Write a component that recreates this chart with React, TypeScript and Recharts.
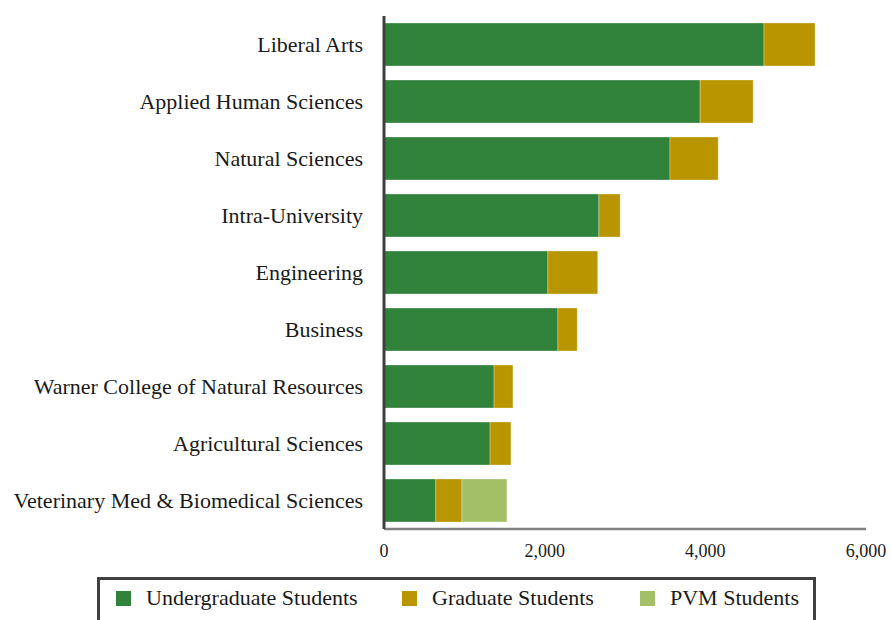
import React from 'react';
import { BarChart, Bar, XAxis, YAxis, Legend } from 'recharts';

const colleges = [
  'Liberal Arts',
  'Applied Human Sciences',
  'Natural Sciences',
  'Intra-University',
  'Engineering',
  'Business',
  'Warner College of Natural Resources',
  'Agricultural Sciences',
  'Veterinary Med & Biomedical Sciences',
];
const undergrad = [4730, 3935, 3560, 2675, 2040, 2165, 1370, 1320, 645];
const graduate = [635, 660, 600, 265, 620, 240, 235, 260, 325];
const pvm = [0, 0, 0, 0, 0, 0, 0, 0, 560];
const xTicks = [0, 2000, 4000, 6000];

const series = [
  { key: 'ug', name: 'Undergraduate Students', color: '#31823B' },
  { key: 'grad', name: 'Graduate Students', color: '#B99500' },
  { key: 'pvm', name: 'PVM Students', color: '#A3C066' },
];

const data = colleges.map((name, i) => ({
  name,
  ug: undergrad[i],
  grad: graduate[i],
  pvm: pvm[i],
}));

const FONT = 'Liberation Serif, DejaVu Serif, serif';
// left edge of each legend swatch inside the box
const legendLeft = [16, 302, 540];

const LegendBox = () => (
  <div
    style={{
      position: 'relative',
      width: 719,
      height: 50,
      border: '3px solid #404040',
      borderBottom: 'none',
      boxSizing: 'border-box',
      fontFamily: FONT,
      fontSize: 22,
      color: '#1a1a1a',
    }}
  >
    {series.map((s, i) => (
      <div
        key={s.key}
        style={{
          position: 'absolute',
          left: legendLeft[i],
          top: 0,
          height: 36,
          display: 'flex',
          alignItems: 'center',
          whiteSpace: 'nowrap',
        }}
      >
        <span style={{ width: 15, height: 15, background: s.color, display: 'inline-block', marginRight: 15 }} />
        <span>{s.name}</span>
      </div>
    ))}
  </div>
);

export default function App() {
  return (
    <div style={{ position: 'absolute', left: 0, top: 0, width: 891, height: 620, background: '#fff', overflow: 'hidden' }}>
      <BarChart
        width={891}
        height={620}
        data={data}
        layout="vertical"
        margin={{ top: 16, right: 25, bottom: 11, left: 0 }}
      >
        <XAxis
          type="number"
          domain={[0, 6000]}
          ticks={xTicks}
          tickFormatter={(v: number) => v.toLocaleString('en-US')}
          axisLine={{ stroke: '#808080', strokeWidth: 2.5 }}
          tickLine={false}
          tickSize={0}
          tickMargin={15}
          height={30}
          tick={{ fill: '#1a1a1a', fontFamily: FONT, fontSize: 18 }}
        />
        <YAxis
          type="category"
          dataKey="name"
          width={384}
          axisLine={{ stroke: '#404040', strokeWidth: 3 }}
          tickLine={false}
          tickSize={0}
          tickMargin={21}
          interval={0}
          tick={{ fill: '#1a1a1a', fontFamily: FONT, fontSize: 22 }}
        />
        <Legend
          content={() => <LegendBox />}
          wrapperStyle={{ position: 'absolute', left: 97, top: 577, width: 719, height: 50 }}
        />
        {series.map((s) => (
          <Bar
            key={s.key}
            dataKey={s.key}
            name={s.name}
            stackId="a"
            fill={s.color}
            barSize={43}
            stroke="#ffffff"
            strokeOpacity={0.5}
            strokeWidth={0.6}
            isAnimationActive={false}
          />
        ))}
      </BarChart>
    </div>
  );
}
